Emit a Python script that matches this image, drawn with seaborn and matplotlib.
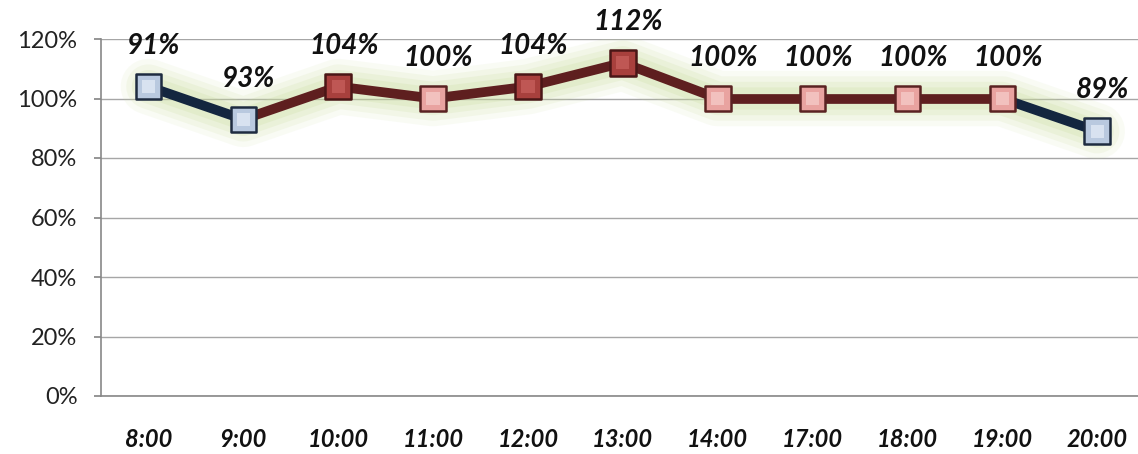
import matplotlib
matplotlib.use("Agg")
import matplotlib.pyplot as plt
import seaborn as sns
import pandas as pd
import numpy as np

# ---- data ----
times = ["8:00", "9:00", "10:00", "11:00", "12:00", "13:00", "14:00", "17:00", "18:00", "19:00", "20:00"]
values = [104, 93, 104, 100, 104, 112, 100, 100, 100, 100, 89]
label_texts = ["91%", "93%", "104%", "100%", "104%", "112%", "100%", "100%", "100%", "100%", "89%"]
status = ["low", "low", "high", "ok", "high", "high", "ok", "ok", "ok", "ok", "low"]
y_ticks = [0, 20, 40, 60, 80, 100, 120]

marker_face = {"low": "#b9c9df", "ok": "#e9a3a0", "high": "#a8403d"}
marker_edge = {"low": "#1e2b40", "ok": "#5a2222", "high": "#4a1616"}
marker_hi = {"low": "#e6eef8", "ok": "#f6cfcc", "high": "#c9625e"}
line_col = {"low": "#13263f", "ok": "#5e1f1f", "high": "#5e1f1f"}

sns.set_theme(style="white")
plt.rcParams["font.family"] = ["Lato", "DejaVu Sans"]

df = pd.DataFrame({"x": np.arange(len(times)), "time": times, "value": values, "status": status})

fig = plt.figure(figsize=(11.38, 4.54), dpi=100)
ax = fig.add_axes([101 / 1138, 58 / 454, (1138 - 101) / 1138, (396 - 39) / 454])

# glow
for lw, a in [(40, 0.10), (32, 0.14), (24, 0.18), (16, 0.22)]:
    sns.lineplot(data=df, x="x", y="value", ax=ax, color="#c8dc9c", linewidth=lw, alpha=a,
                 legend=False, solid_capstyle="round", solid_joinstyle="round", zorder=2)

# segments colored by their end point
for i in range(len(df) - 1):
    seg = df.iloc[i:i + 2]
    sns.lineplot(data=seg, x="x", y="value", ax=ax, color=line_col[status[i + 1]],
                 linewidth=7, legend=False, zorder=3, solid_capstyle="butt")

# markers
sns.scatterplot(data=df, x="x", y="value", hue="status", palette=marker_face, marker="s",
                s=340, edgecolor=[marker_edge[s] for s in status], linewidth=1.8,
                legend=False, ax=ax, zorder=4)
sns.scatterplot(data=df, x="x", y="value", hue="status", palette=marker_hi, marker="s",
                s=90, linewidth=0, alpha=0.7, legend=False, ax=ax, zorder=5)

# data labels
for i, (xv, yv) in enumerate(zip(df["x"], df["value"])):
    ax.annotate(label_texts[i], (xv, yv), xytext=(4, 20), textcoords="offset points",
                ha="center", va="bottom", fontsize=20, fontweight="bold", fontstyle="italic",
                color="#111111", zorder=6)

ax.set_xlim(-0.5, 10.43)
ax.set_ylim(0, 120)
ax.set_yticks(y_ticks)
ax.set_yticklabels([f"{t}%" for t in y_ticks], fontsize=17, color="#222222")
ax.set_xticks(df["x"])
ax.set_xticklabels(times, fontsize=17, fontweight="bold", fontstyle="italic", color="#111111")
ax.set_xlabel("")
ax.set_ylabel("")

ax.grid(axis="y", color="#a6a6a6", linewidth=1)
ax.set_axisbelow(True)
for side in ["top", "right"]:
    ax.spines[side].set_visible(False)
for side in ["left", "bottom"]:
    ax.spines[side].set_color("#888888")
    ax.spines[side].set_linewidth(1.2)
ax.tick_params(axis="y", which="major", left=True, length=5, color="#888888", pad=12)
ax.tick_params(axis="x", which="major", bottom=False, pad=17)

fig.savefig("out.png", dpi=100)
